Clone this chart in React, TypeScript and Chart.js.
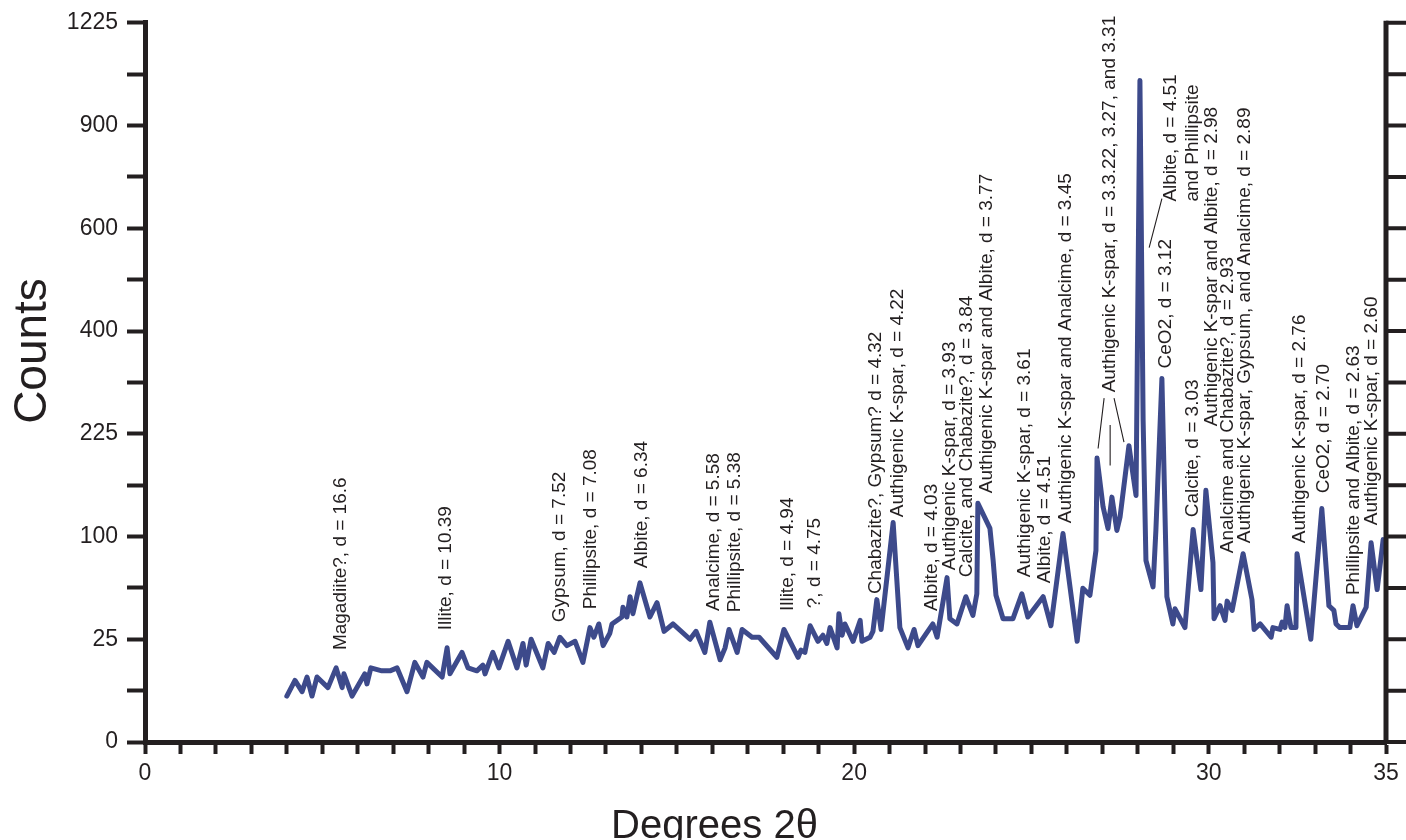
import React, { useEffect, useRef } from 'react';
import { Chart, registerables } from 'chart.js';

Chart.register(...registerables);

// ---- data (2θ in degrees, intensity in counts) ----
const twoTheta = [
  4.00, 4.23, 4.43, 4.57, 4.71, 4.85, 5.16, 5.39, 5.56, 5.61,
  5.84, 6.20, 6.26, 6.37, 6.68, 6.91, 7.11, 7.39, 7.61, 7.84,
  7.95, 8.38, 8.52, 8.60, 8.94, 9.11, 9.36, 9.53, 9.59, 9.81,
  9.98, 10.24, 10.49, 10.66, 10.75, 10.89, 11.22, 11.37, 11.54, 11.70,
  11.90, 12.13, 12.35, 12.55, 12.66, 12.80, 12.92, 13.11, 13.17, 13.45,
  13.48, 13.59, 13.68, 13.76, 13.96, 14.24, 14.44, 14.64, 14.89, 15.37,
  15.54, 15.79, 15.93, 16.22, 16.36, 16.47, 16.70, 16.84, 17.12, 17.32,
  17.82, 18.02, 18.42, 18.50, 18.61, 18.76, 18.98, 19.12, 19.23, 19.32,
  19.52, 19.57, 19.66, 19.74, 19.97, 20.17, 20.22, 20.45, 20.53, 20.64,
  20.76, 21.10, 21.29, 21.52, 21.69, 21.80, 22.22, 22.34, 22.62, 22.70,
  22.90, 23.15, 23.35, 23.46, 23.49, 23.83, 23.92, 24.00, 24.20, 24.48,
  24.73, 24.90, 25.33, 25.55, 25.89, 26.29, 26.45, 26.65, 26.82, 26.85,
  27.02, 27.16, 27.27, 27.41, 27.50, 27.75, 27.86, 27.95, 28.06, 28.15,
  28.23, 28.43, 28.51, 28.68, 28.82, 28.99, 29.05, 29.33, 29.56, 29.78,
  29.92, 30.12, 30.15, 30.32, 30.46, 30.52, 30.66, 30.97, 31.22, 31.28,
  31.45, 31.76, 31.81, 32.01, 32.07, 32.15, 32.21, 32.32, 32.46, 32.49,
  32.88, 33.19, 33.39, 33.53, 33.59, 33.70, 33.98, 34.07, 34.18, 34.44,
  34.58, 34.75, 34.92,
];

const counts = [
  5, 9, 6, 10, 5, 10, 7, 13, 7, 11,
  5, 11, 8, 13, 12, 12, 13, 6, 15, 10,
  15, 10, 21, 11, 19, 13, 12, 14, 11, 19,
  13, 24, 13, 23, 14, 25, 13, 23, 19, 26,
  22, 24, 15, 31, 26, 33, 22, 28, 33, 37,
  43, 37, 50, 39, 60, 37, 46, 29, 33, 25,
  29, 19, 34, 16, 21, 30, 19, 30, 26, 26,
  17, 30, 17, 20, 19, 32, 24, 27, 23, 31,
  21, 39, 27, 33, 24, 35, 24, 26, 29, 48,
  30, 114, 31, 21, 30, 22, 33, 26, 64, 36,
  33, 50, 38, 52, 135, 108, 78, 51, 36, 36,
  52, 37, 50, 32, 103, 24, 56, 51, 87, 191,
  131, 108, 142, 106, 120, 208, 171, 144, 1036, 245,
  78, 57, 106, 313, 50, 33, 42, 31, 107, 55,
  150, 76, 36, 44, 35, 47, 41, 84, 48, 30,
  33, 26, 31, 30, 34, 31, 44, 31, 31, 84,
  25, 129, 44, 41, 33, 31, 31, 44, 32, 43,
  94, 55, 97,
];

// y axis is square-root scaled; labels shown at every 5 sqrt-units
const yTickLabels = ['0', '25', '100', '225', '400', '600', '900', '1225'];
const xTickLabels = [0, 10, 20, 30, 35];

// peak labels: position (2θ, counts) of the start (bottom) of the vertical text
const peakLabels = [
  { x: 5.53, y: 20.0, text: ['Magadiite?, d = 16.6'] },
  { x: 8.49, y: 29.6, text: ['Illite, d = 10.39'] },
  { x: 11.70, y: 34.0, text: ['Gypsum, d = 7.52'] },
  { x: 12.58, y: 41.8, text: ['Phillipsite, d = 7.08'] },
  { x: 14.02, y: 71.5, text: ['Albite, d = 6.34'] },
  { x: 16.05, y: 40.6, text: ['Analcime, d = 5.58'] },
  { x: 16.64, y: 39.9, text: ['Phillipsite, d = 5.38'] },
  { x: 18.13, y: 40.6, text: ['Illite, d = 4.94'] },
  { x: 18.90, y: 42.4, text: ['?, d = 4.75'] },
  { x: 20.62, y: 51.8, text: ['Chabazite?, Gypsum? d = 4.32'] },
  { x: 21.24, y: 119.6, text: ['Authigenic K-spar, d = 4.22'] },
  { x: 22.20, y: 40.6, text: ['Albite, d = 4.03'] },
  { x: 22.70, y: 69.9, text: ['Authigenic K-spar, d = 3.93'] },
  { x: 23.18, y: 64.3, text: ['Calcite, and Chabazite?, d = 3.84'] },
  { x: 23.75, y: 146.5, text: ['Authigenic K-spar and Albite, d = 3.77'] },
  { x: 24.82, y: 64.3, text: ['Authigenic K-spar, d = 3.61'] },
  { x: 25.38, y: 59.7, text: ['Albite, d = 4.51'] },
  { x: 25.97, y: 113.3, text: ['Authigenic K-spar and Analcime, d = 3.45'] },
  { x: 27.22, y: 289.5, text: ['Authigenic K-spar, d = 3.3.22, 3.27, and 3.31'] },
  { x: 28.80, y: 330.5, text: ['CeO2, d = 3.12'] },
  { x: 28.94, y: 691.6, text: ['Albite, d = 4.51', 'and Phillipsite'] },
  { x: 29.56, y: 119.6, text: ['Calcite, d = 3.03'] },
  { x: 30.09, y: 236.0, text: ['Authigenic K-spar and Albite, d = 2.98'] },
  { x: 30.54, y: 84.4, text: ['Analcime and Chabazite?, d = 2.93'] },
  { x: 31.02, y: 93.6, text: ['Authigenic K-spar, Gypsum, and Analcime, d = 2.89'] },
  { x: 32.57, y: 93.6, text: ['Authigenic K-spar, d = 2.76'] },
  { x: 33.25, y: 146.5, text: ['CeO2, d = 2.70'] },
  { x: 34.10, y: 51.1, text: ['Phillipsite and Albite, d = 2.63'] },
  { x: 34.61, y: 111.3, text: ['Authigenic K-spar, d = 2.60'] },
];

// thin leader lines from labels to peaks (2θ, counts)
const leaderLines = [
  { x1: 27.05, y1: 280, x2: 26.88, y2: 204 },
  { x1: 27.22, y1: 238, x2: 27.22, y2: 181 },
  { x1: 27.33, y1: 280, x2: 27.61, y2: 213 },
  { x1: 28.32, y1: 579, x2: 28.68, y2: 699 },
];

const FONT = "'Liberation Sans', Arial, Helvetica, sans-serif";
const INK = '#231f20';
const LINE = '#3d4a8b';

const overlayPlugin = {
  id: 'overlay',
  afterDraw(chart: any) {
    const { ctx, chartArea, scales } = chart;
    const xs = scales.x;
    const ys = scales.y;
    ctx.save();

    // right axis with outward ticks
    ctx.strokeStyle = INK;
    ctx.lineWidth = 5;
    ctx.beginPath();
    ctx.moveTo(chartArea.right, ys.getPixelForValue(35) - 2);
    ctx.lineTo(chartArea.right, ys.getPixelForValue(0) + 2);
    ctx.stroke();
    ctx.lineWidth = 4;
    ctx.beginPath();
    for (let v = 0; v <= 35; v += 2.5) {
      const py = ys.getPixelForValue(v);
      ctx.moveTo(chartArea.right, py);
      ctx.lineTo(chartArea.right + 20, py);
    }
    ctx.stroke();

    // leader lines
    ctx.lineWidth = 1.1;
    ctx.beginPath();
    leaderLines.forEach((l) => {
      ctx.moveTo(xs.getPixelForValue(l.x1), ys.getPixelForValue(Math.sqrt(l.y1)));
      ctx.lineTo(xs.getPixelForValue(l.x2), ys.getPixelForValue(Math.sqrt(l.y2)));
    });
    ctx.stroke();

    // peak labels (vertical text)
    ctx.fillStyle = INK;
    ctx.font = `19px ${FONT}`;
    ctx.textAlign = 'left';
    ctx.textBaseline = 'middle';
    peakLabels.forEach((lab) => {
      const px = xs.getPixelForValue(lab.x);
      const py = ys.getPixelForValue(Math.sqrt(lab.y));
      ctx.save();
      ctx.translate(px, py);
      ctx.rotate(-Math.PI / 2);
      lab.text.forEach((t, i) => ctx.fillText(t, 0, i * 22));
      ctx.restore();
    });

    // axis titles
    ctx.textAlign = 'center';
    ctx.textBaseline = 'alphabetic';
    ctx.font = `40px ${FONT}`;
    ctx.fillText('Degrees 2θ', (chartArea.left + chartArea.right) / 2 - 51, 838);
    ctx.save();
    ctx.font = `46px ${FONT}`;
    ctx.translate(46, 351);
    ctx.rotate(-Math.PI / 2);
    ctx.fillText('Counts', 0, 0);
    ctx.restore();

    ctx.restore();
  },
};

export default function App() {
  const ref = useRef<HTMLCanvasElement | null>(null);

  useEffect(() => {
    if (!ref.current) return;
    const points = twoTheta.map((t, i) => ({ x: t, y: Math.sqrt(counts[i]) }));
    const chart = new Chart(ref.current, {
      type: 'line',
      data: {
        datasets: [
          {
            data: points,
            borderColor: LINE,
            borderWidth: 5,
            pointRadius: 0,
            tension: 0,
            borderJoinStyle: 'round',
            borderCapStyle: 'round',
            fill: false,
          },
        ],
      },
      options: {
        animation: false,
        responsive: false,
        devicePixelRatio: 1,
        layout: { padding: { top: 21, right: 20, left: 0, bottom: 0 } },
        plugins: { legend: { display: false }, tooltip: { enabled: false } },
        scales: {
          x: {
            type: 'linear',
            min: 0,
            max: 35,
            afterFit: (s: any) => { s.height = 98; },
            afterBuildTicks: (s: any) => {
              const t = [];
              for (let v = 0; v <= 35; v++) t.push({ value: v });
              s.ticks = t;
            },
            ticks: {
              autoSkip: false,
              maxRotation: 0,
              padding: 6,
              color: INK,
              font: { family: FONT, size: 23 },
              callback: (v: any) => (xTickLabels.includes(Number(v)) ? String(v) : ''),
            },
            grid: { drawOnChartArea: false, drawTicks: true, tickLength: 12, tickWidth: 4, tickColor: INK },
            border: { display: true, width: 5, color: INK },
          },
          y: {
            type: 'linear',
            min: 0,
            max: 35,
            afterFit: (s: any) => { s.width = 145; },
            afterBuildTicks: (s: any) => {
              const t = [];
              for (let v = 0; v <= 35; v += 2.5) t.push({ value: v });
              s.ticks = t;
            },
            ticks: {
              autoSkip: false,
              padding: 9,
              color: INK,
              font: { family: FONT, size: 23 },
              callback: (v: any) => {
                const n = Number(v);
                return n % 5 === 0 ? yTickLabels[n / 5] : '';
              },
            },
            grid: { drawOnChartArea: false, drawTicks: true, tickLength: 18, tickWidth: 4, tickColor: INK },
            border: { display: true, width: 5, color: INK },
          },
        },
      },
      plugins: [overlayPlugin],
    });
    return () => chart.destroy();
  }, []);

  return (
    <div style={{ position: 'fixed', left: 0, top: 0, width: 1406, height: 840, background: '#fff' }}>
      <canvas ref={ref} width={1406} height={840} style={{ display: 'block' }} />
    </div>
  );
}
